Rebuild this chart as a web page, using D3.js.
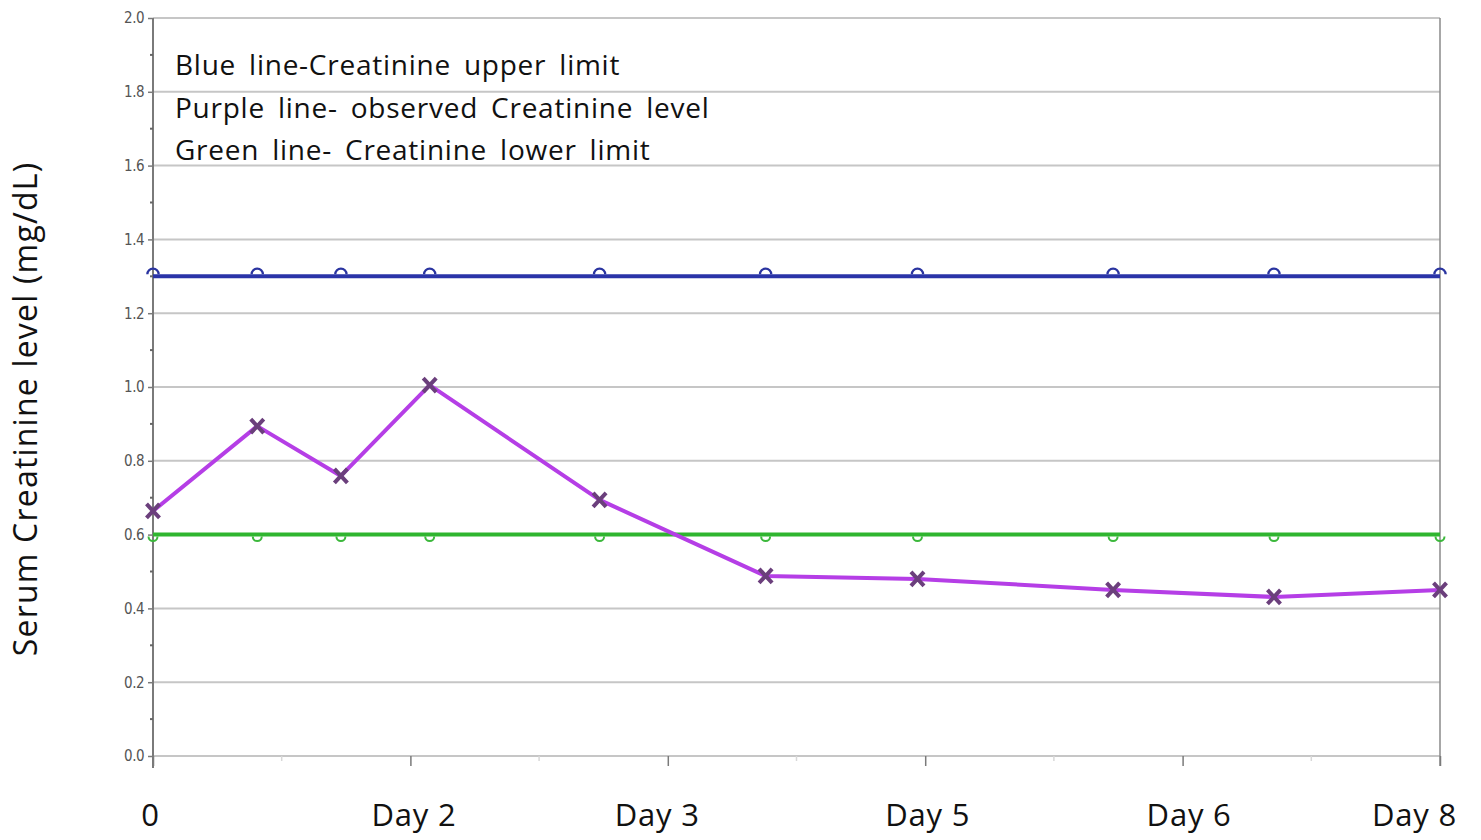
<!DOCTYPE html>
<html><head><meta charset="utf-8">
<script src="https://cdn.jsdelivr.net/npm/d3@7"></script>
<style>
body{margin:0;background:#fff;}
svg{display:block;}
</style></head><body>
<svg id="c" width="1481" height="840"></svg>
<script>
// Data
const sampleX = [0, 0.81, 1.46, 2.15, 3.47, 4.76, 5.94, 7.46, 8.71, 10];
const observed = [0.664, 0.894, 0.759, 1.005, 0.694, 0.488, 0.48, 0.45, 0.431, 0.45];
const upperLimit = [1.3, 1.3, 1.3, 1.3, 1.3, 1.3, 1.3, 1.3, 1.3, 1.3];
const lowerLimit = [0.6, 0.6, 0.6, 0.6, 0.6, 0.6, 0.6, 0.6, 0.6, 0.6];
const xTickValues = [0, 2, 4, 6, 8, 10];
const xTickLabels = ["0", "Day 2", "Day 3", "Day 5", "Day 6", "Day 8"];
const yTicks = [0, 0.2, 0.4, 0.6, 0.8, 1.0, 1.2, 1.4, 1.6, 1.8, 2.0];
const legendLines = ["Blue line-Creatinine upper limit", "Purple line- observed Creatinine level", "Green line- Creatinine lower limit"];

const svg = d3.select("#c");
const L = 153, R = 1440, T = 18, B = 756;
const x = d3.scaleLinear().domain([0, 10]).range([L, R]);
const y = d3.scaleLinear().domain([0, 2]).range([B, T]);

// gridlines
svg.append("g").selectAll("line").data(yTicks).join("line")
  .attr("x1", L).attr("x2", R).attr("y1", d => y(d)).attr("y2", d => y(d))
  .attr("stroke", "#c6c6c6").attr("stroke-width", 2);

// right border
svg.append("line").attr("x1", R).attr("x2", R).attr("y1", T).attr("y2", B + 10)
  .attr("stroke", "#8a8a8a").attr("stroke-width", 1.5);

// y axis
const yAxis = svg.append("g").attr("transform", `translate(${L},0)`)
  .call(d3.axisLeft(y).tickValues(yTicks).tickFormat(d3.format(".1f")).tickSize(5).tickPadding(4));
yAxis.select(".domain").attr("stroke", "#7a7a7a").attr("stroke-width", 2).attr("d", `M0,${T}V${B + 12}`);
yAxis.selectAll(".tick line").attr("stroke", "#7a7a7a").attr("stroke-width", 1.5);
yAxis.selectAll(".tick text").attr("fill", "#555")
  .style("font-family", "'Liberation Sans Narrow','DejaVu Sans Condensed',sans-serif")
  .style("font-size", "15px").style("letter-spacing", "-0.5px");
// y minor ticks
svg.append("g").selectAll("line").data(d3.range(0.1, 2, 0.2)).join("line")
  .attr("x1", L - 3).attr("x2", L).attr("y1", d => y(d)).attr("y2", d => y(d))
  .attr("stroke", "#666").attr("stroke-width", 2);

// x axis ticks
const xAxis = svg.append("g").attr("transform", `translate(0,${B})`)
  .call(d3.axisBottom(x).tickValues(xTickValues).tickFormat((d, i) => xTickLabels[i]).tickSize(10).tickPadding(38));
xAxis.select(".domain").remove();
xAxis.selectAll(".tick line").attr("stroke", "#7a7a7a").attr("stroke-width", 1.5);
const xOffsets = [-3, 3, -11, 2, 6, -26];
xAxis.selectAll(".tick text").attr("fill", "#111")
  .style("font-family", "'Open Sans',sans-serif").style("font-size", "31px").style("letter-spacing", "0.8px")
  .attr("text-anchor", "middle")
  .attr("dx", (d, i) => xOffsets[i]);
// x minor ticks
svg.append("g").selectAll("line").data([1, 3, 5, 7, 9]).join("line")
  .attr("x1", d => x(d)).attr("x2", d => x(d)).attr("y1", B).attr("y2", B + 5)
  .attr("stroke", "#d8d8d8").attr("stroke-width", 1.5);

// series
const pts = arr => sampleX.map((d, i) => [d, arr[i]]);
const line = d3.line().x(d => x(d[0])).y(d => y(d[1]));

const halfTop = d3.arc().innerRadius(4.5).outerRadius(6.8).startAngle(-Math.PI / 2).endAngle(Math.PI / 2);
const halfBot = d3.arc().innerRadius(3.5).outerRadius(5.5).startAngle(Math.PI / 2).endAngle(Math.PI * 1.5);

// upper limit
svg.append("g").selectAll("path").data(pts(upperLimit)).join("path")
  .attr("d", halfTop).attr("transform", d => `translate(${x(d[0])},${y(d[1]) - 2})`)
  .attr("fill", "#2a34a0");
svg.append("path").datum(pts(upperLimit)).attr("d", line)
  .attr("fill", "none").attr("stroke", "#2a34a8").attr("stroke-width", 4);

// lower limit
svg.append("g").selectAll("path").data(pts(lowerLimit)).join("path")
  .attr("d", halfBot).attr("transform", d => `translate(${x(d[0])},${y(d[1]) + 2})`)
  .attr("fill", "#3cb83c");
svg.append("path").datum(pts(lowerLimit)).attr("d", line)
  .attr("fill", "none").attr("stroke", "#2fb52f").attr("stroke-width", 4);

// observed
svg.append("path").datum(pts(observed)).attr("d", line)
  .attr("fill", "none").attr("stroke", "#b53ee6").attr("stroke-width", 4).attr("stroke-linejoin", "round");
svg.append("g").selectAll("path").data(pts(observed)).join("path")
  .attr("d", "M-6.5,-7L6.5,7M-6.5,7L6.5,-7")
  .attr("transform", d => `translate(${x(d[0])},${y(d[1])})`)
  .attr("stroke", "#6b3f7c").attr("stroke-width", 4).attr("fill", "none");

// legend text
svg.append("g").selectAll("text").data(legendLines).join("text")
  .attr("x", 175).attr("y", (d, i) => 75 + i * 42.5)
  .style("font-family", "'Open Sans',sans-serif").style("font-size", "28px")
  .style("word-spacing", "5px").style("letter-spacing", "0.75px")
  .attr("fill", "#111").text(d => d);

// y title
svg.append("text").attr("transform", "translate(37,409) rotate(-90)")
  .attr("text-anchor", "middle")
  .style("font-family", "'Open Sans',sans-serif").style("font-size", "32px").style("letter-spacing", "1.2px")
  .attr("fill", "#111").text("Serum Creatinine level (mg/dL)");
</script>
</body></html>
